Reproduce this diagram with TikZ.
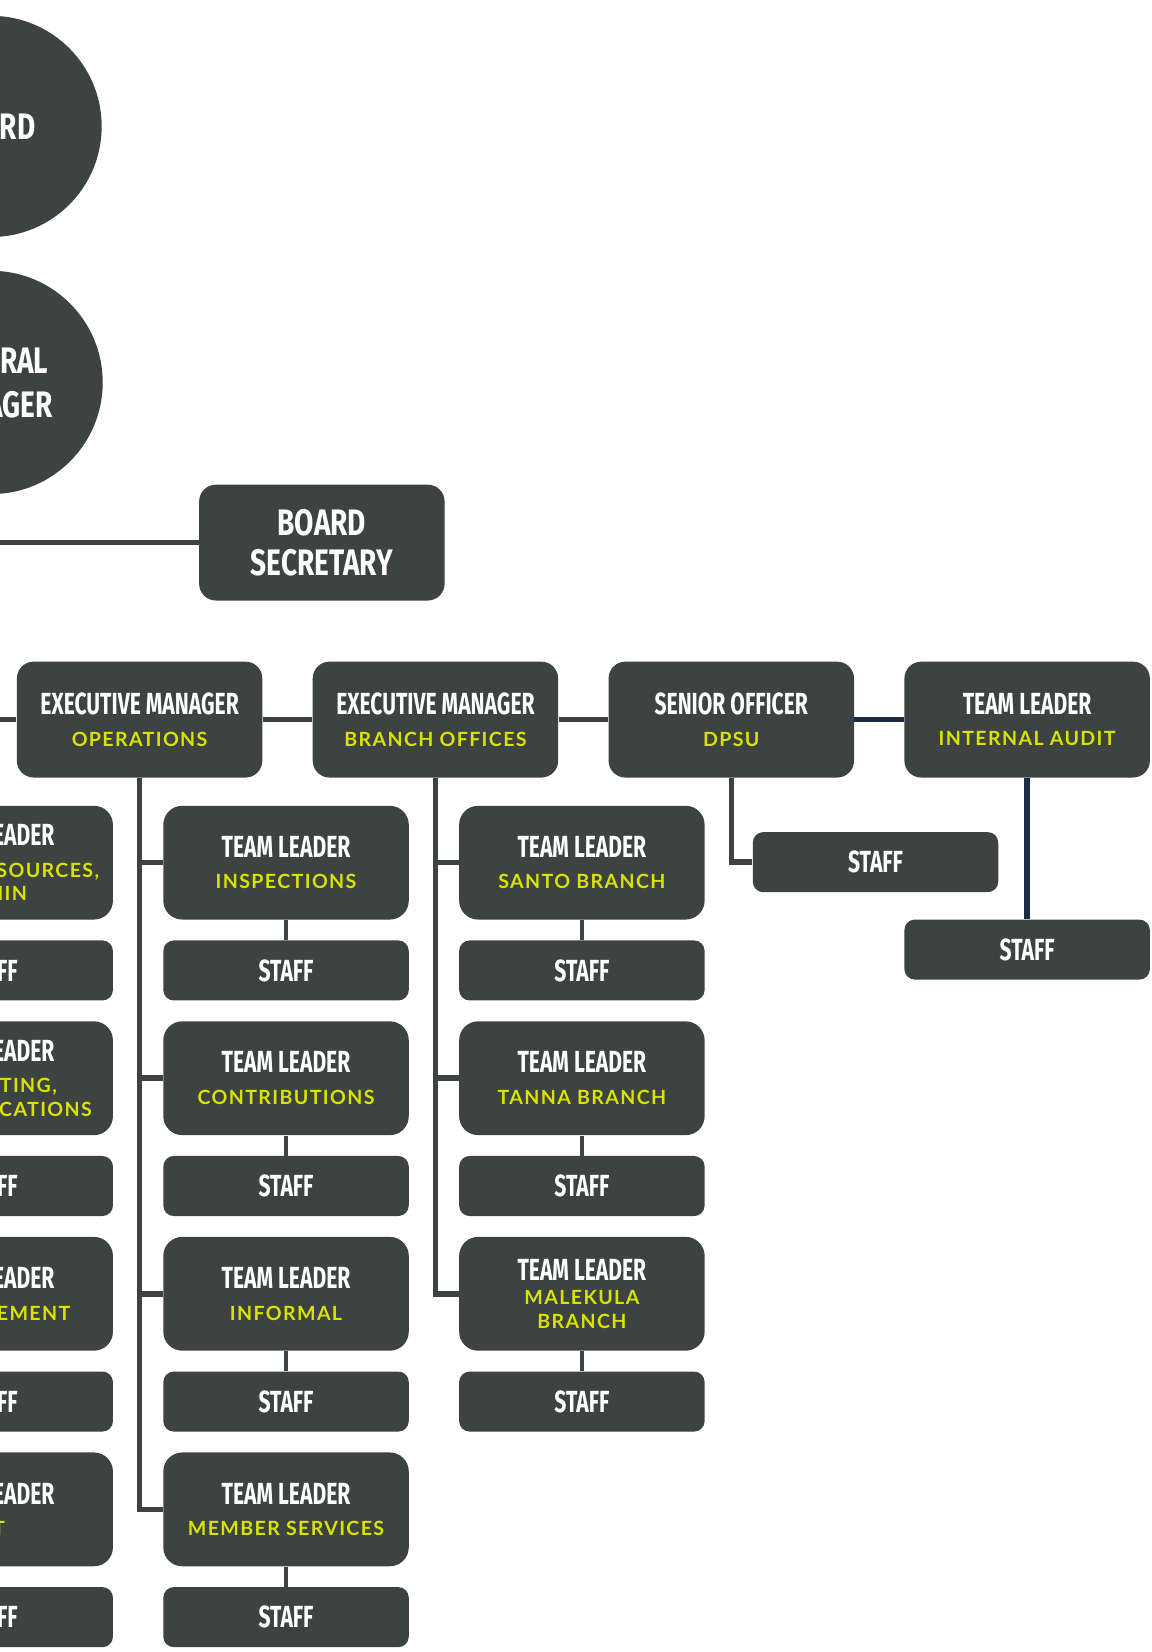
\documentclass[tikz,border=0pt]{standalone}
\usepackage{fontspec}
\usepackage{tikz}
\usetikzlibrary{positioning}

\newfontfamily\titlefont{Fira Sans}[FakeStretch=0.69]
\newfontfamily\headfont{Fira Sans}[FakeStretch=0.76]
\newfontfamily\subfont{Lato}[LetterSpace=7]
\definecolor{boxgray}{RGB}{60,67,64}
\definecolor{deptyellow}{RGB}{218,226,0}
\definecolor{linknavy}{RGB}{28,44,70}
\newcommand{\dept}[1]{{\subfont\fontsize{9.3}{15}\selectfont\color{deptyellow}#1}}

\begin{document}
\begin{tikzpicture}[x=0.5pt,y=-0.5pt,
  unitbox/.style={fill=boxgray, text=white, rounded corners=9pt, minimum width=116.5pt,
    minimum height=54pt, align=center, inner sep=0pt,
    font=\titlefont\bfseries\fontsize{14.5}{15}\selectfont},
  headbox/.style={unitbox, minimum height=55pt, rounded corners=8pt},
  staffbox/.style={unitbox, minimum height=28.5pt, rounded corners=5pt},
  chief/.style={circle, fill=boxgray, text=white, align=center, inner sep=0pt,
    font=\headfont\bfseries\fontsize{17.5}{21}\selectfont},
  link/.style={draw=boxgray, line width=2.6pt},
  thinlink/.style={draw=boxgray, line width=2pt},
  navylink/.style={draw=linknavy, line width=2.6pt}]

\clip (0,0) rectangle (1093,1568);
\useasboundingbox (0,0) rectangle (1093,1568);

\node[chief, minimum size=105pt] (board) at (-8.5,120) {BOARD};
\node[chief, minimum size=106pt] (gm) at (-8.5,363) {GENERAL\\MANAGER};
\node[headbox, font=\headfont\bfseries\fontsize{17.5}{19}\selectfont] (bsec) at (305.5,515) {BOARD\\SECRETARY};

% top row
\node[headbox] (ops) at (132.5,683) {EXECUTIVE MANAGER\\\dept{OPERATIONS}};
\node[headbox] (branch) [right=23.5pt of ops] {EXECUTIVE MANAGER\\\dept{BRANCH OFFICES}};
\node[headbox] (dpsu) [right=23.5pt of branch] {SENIOR OFFICER\\\dept{DPSU}};
\node[headbox] (audit) [right=23.5pt of dpsu] {TEAM LEADER\\\dept{INTERNAL AUDIT}};

% operations
\node[unitbox] (insp) [below=13pt of ops, xshift=69.5pt] {TEAM LEADER\\\dept{INSPECTIONS}};
\node[staffbox] (inspS) [below=9.5pt of insp] {STAFF};
\node[unitbox] (contr) [below=9.5pt of inspS] {TEAM LEADER\\\dept{CONTRIBUTIONS}};
\node[staffbox] (contrS) [below=9.5pt of contr] {STAFF};
\node[unitbox] (inf) [below=9.5pt of contrS] {TEAM LEADER\\\dept{INFORMAL}};
\node[staffbox] (infS) [below=9.5pt of inf] {STAFF};
\node[unitbox] (msrv) [below=9.5pt of infS] {TEAM LEADER\\\dept{MEMBER SERVICES}};
\node[staffbox] (msrvS) [below=9.5pt of msrv] {STAFF};

% left column
\node[unitbox] (hr) [left=23.5pt of insp] {TEAM LEADER\\\dept{HUMAN RESOURCES,}\\[-4pt]\dept{ADMIN}};
\node[staffbox] (hrS) [below=9.5pt of hr] {STAFF};
\node[unitbox] (mkt) [below=9.5pt of hrS] {TEAM LEADER\\\dept{MARKETING,}\\[-4pt]\dept{COMMUNICATIONS}};
\node[staffbox] (mktS) [below=9.5pt of mkt] {STAFF};
\node[unitbox] (enf) [below=9.5pt of mktS] {TEAM LEADER\\\dept{ENFORCEMENT}};
\node[staffbox] (enfS) [below=9.5pt of enf] {STAFF};
\node[unitbox] (it) [below=9.5pt of enfS] {TEAM LEADER\\\dept{\hspace*{5pt}IT}};
\node[staffbox] (itS) [below=9.5pt of it] {STAFF};

% branch offices
\node[unitbox] (santo) [below=13pt of branch, xshift=69.5pt] {TEAM LEADER\\\dept{SANTO BRANCH}};
\node[staffbox] (santoS) [below=9.5pt of santo] {STAFF};
\node[unitbox] (tanna) [below=9.5pt of santoS] {TEAM LEADER\\\dept{TANNA BRANCH}};
\node[staffbox] (tannaS) [below=9.5pt of tanna] {STAFF};
\node[unitbox] (male) [below=9.5pt of tannaS] {TEAM LEADER\\[-3.5pt]\dept{MALEKULA}\\[-4pt]\dept{BRANCH}};
\node[staffbox] (maleS) [below=9.5pt of male] {STAFF};

\node[staffbox, anchor=north west, xshift=10pt, yshift=-25.5pt] (dpsuS) at (dpsu.south) {STAFF};
\node[staffbox] (auditS) [below=67pt of audit] {STAFF};

\draw[link] (gm.south) |- (bsec.west);
\draw[link] (gm.south) |- (ops.west);
\path[link]
  (ops) edge (branch)
  (branch) edge (dpsu);
\path[navylink] (dpsu) edge (audit);

\draw[link] (ops.south) |- (msrv.west);
\draw[link] (ops.south |- insp.west) -- (insp.west);
\draw[link] (ops.south |- contr.west) -- (contr.west);
\draw[link] (ops.south |- inf.west) -- (inf.west);

\draw[link] (branch.south) |- (male.west);
\draw[link] (branch.south |- santo.west) -- (santo.west);
\draw[link] (branch.south |- tanna.west) -- (tanna.west);

\draw[link] (dpsu.south) |- (dpsuS.west);
\draw[navylink] (audit.south) -- (auditS.north);

\path[thinlink]
  (insp) edge (inspS) (contr) edge (contrS) (inf) edge (infS) (msrv) edge (msrvS)
  (santo) edge (santoS) (tanna) edge (tannaS) (male) edge (maleS);

\end{tikzpicture}
\end{document}
